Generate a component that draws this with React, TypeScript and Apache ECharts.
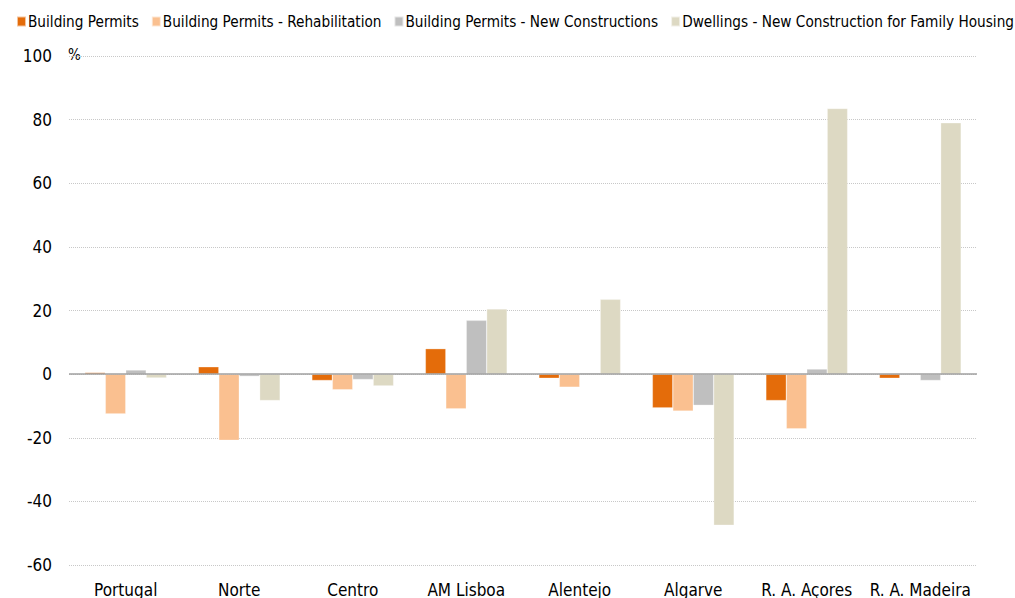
import React, { useEffect, useRef } from "react";
import * as echarts from "echarts";

const categories = ["Portugal", "Norte", "Centro", "AM Lisboa", "Alentejo", "Algarve", "R. A. Açores", "R. A. Madeira"];
const seriesNames = [
  "Building Permits",
  "Building Permits - Rehabilitation",
  "Building Permits - New Constructions",
  "Dwellings - New Construction for Family Housing",
];
const buildingPermits = [0.5, 2.3, -2.0, 8.0, -1.3, -10.6, -8.3, -1.3];
const rehabilitation = [-12.5, -20.8, -4.9, -10.9, -4.1, -11.6, -17.2, 0];
const newConstructions = [1.3, -0.7, -1.7, 16.9, 0.4, -9.8, 1.6, -2.0];
const dwellings = [-1.2, -8.3, -3.7, 20.5, 23.5, -47.5, 83.5, 79.0];
const colors = ["#E46C0A", "#FAC090", "#BFBFBF", "#DDD9C3"];
const yTicks = { min: -60, max: 100, interval: 20 };

const FONT = "'Liberation Sans Narrow', 'DejaVu Sans Condensed', 'Noto Sans', sans-serif";

export default function App() {
  const ref = useRef<HTMLDivElement>(null);
  useEffect(() => {
    if (!ref.current) return;
    const chart = echarts.init(ref.current, null, { renderer: "svg" });
    const data = [buildingPermits, rehabilitation, newConstructions, dwellings];
    chart.setOption({
      animation: false,
      textStyle: { fontFamily: FONT },
      legend: {
        left: 11,
        top: 9,
        width: 1010,
        itemWidth: 9,
        itemHeight: 10,
        itemGap: 12,
        icon: "rect",
        textStyle: { fontFamily: FONT, fontSize: 15.2, color: "#000", padding: [0, 0, 0, -3] },
        data: seriesNames,
      },
      grid: { left: 69, right: 38, top: 56, bottom: 33, containLabel: false },
      xAxis: {
        type: "category",
        data: categories,
        axisLine: { show: false, onZero: false },
        axisTick: { show: false },
        axisLabel: { fontFamily: FONT, fontSize: 17, color: "#000", margin: 16, interval: 0 },
      },
      yAxis: {
        type: "value",
        min: yTicks.min,
        max: yTicks.max,
        interval: yTicks.interval,
        axisLine: { show: false },
        axisTick: { show: false },
        axisLabel: { fontFamily: FONT, fontSize: 17, color: "#000", margin: 17 },
        splitLine: { lineStyle: { color: "#C8C8C8", type: [1, 1], width: 1 } },
      },
      graphic: [
        { type: "text", left: 68, top: 47, style: { text: "%", fontFamily: FONT, fontSize: 15, fill: "#000" } },
      ],
      series: seriesNames.map((name, i) => ({
        name,
        type: "bar",
        data: data[i],
        barCategoryGap: "28%",
        barGap: "0%",
        itemStyle: { color: colors[i], borderColor: "rgba(255,255,255,0.6)", borderWidth: 0.5 },
        ...(i === 0
          ? {
              markLine: {
                silent: true,
                symbol: "none",
                label: { show: false },
                lineStyle: { color: "#A0A0A0", type: "solid", width: 1.5 },
                data: [{ yAxis: 0 }],
              },
            }
          : {}),
      })),
    });
    return () => chart.dispose();
  }, []);
  return <div ref={ref} style={{ position: "absolute", left: 0, top: 0, width: 1015, height: 598, overflow: "hidden" }} />;
}
